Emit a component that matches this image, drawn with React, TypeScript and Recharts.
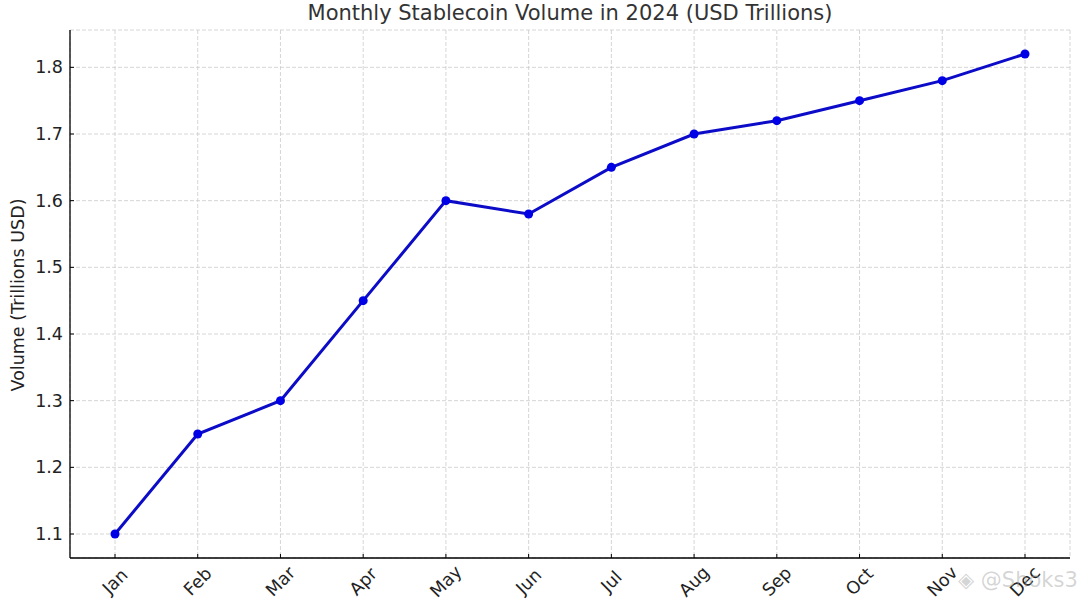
import React from "react";
import { LineChart, Line, XAxis, YAxis, CartesianGrid } from "recharts";

const months = ["Jan", "Feb", "Mar", "Apr", "May", "Jun", "Jul", "Aug", "Sep", "Oct", "Nov", "Dec"];
const volume = [1.1, 1.25, 1.3, 1.45, 1.6, 1.58, 1.65, 1.7, 1.72, 1.75, 1.78, 1.82];
const yTicks = [1.1, 1.2, 1.3, 1.4, 1.5, 1.6, 1.7, 1.8];

const data = months.map((m, i) => ({ month: m, volume: volume[i] }));

const W = 1080;
const H = 607;
const PLOT_LEFT = 70;
const PLOT_BOTTOM = 558;
const FONT = "'DejaVu Sans', sans-serif";
const TICK_FS = 17.5;

function YTick(props: any) {
  const { y, payload } = props;
  return (
    <g>
      <line x1={PLOT_LEFT} x2={PLOT_LEFT + 4} y1={y} y2={y} stroke="#000" strokeWidth={1} />
      <text
        x={PLOT_LEFT - 7}
        y={y}
        textAnchor="end"
        dominantBaseline="central"
        fontSize={TICK_FS}
        fontFamily={FONT}
        fill="#222"
      >
        {payload.value.toFixed(1)}
      </text>
    </g>
  );
}

function XTick(props: any) {
  const { x, payload } = props;
  const label = String(payload.value);
  const w = label.length * TICK_FS * 0.62;
  const h = TICK_FS * 0.8;
  const half = ((w + h) * 0.7071) / 2;
  const cy = PLOT_BOTTOM + 7 + half;
  return (
    <g>
      <line x1={x} x2={x} y1={PLOT_BOTTOM} y2={PLOT_BOTTOM - 4} stroke="#000" strokeWidth={1} />
      <text
        x={x}
        y={cy}
        textAnchor="middle"
        dominantBaseline="central"
        fontSize={TICK_FS}
        fontFamily={FONT}
        fill="#222"
        transform={`rotate(-45 ${x} ${cy})`}
      >
        {label}
      </text>
    </g>
  );
}

export default function App() {
  return (
    <div style={{ position: "absolute", left: 0, top: 0, width: W, height: H, background: "#fff", fontFamily: FONT }}>
      <div
        style={{
          position: "absolute",
          left: PLOT_LEFT,
          width: 1000,
          top: 1,
          textAlign: "center",
          fontSize: 21,
          color: "#333",
        }}
      >
        Monthly Stablecoin Volume in 2024 (USD Trillions)
      </div>
      <div
        style={{
          position: "absolute",
          left: 18,
          top: 295,
          transform: "translate(-50%, -50%) rotate(-90deg)",
          whiteSpace: "nowrap",
          fontSize: 17.5,
          color: "#222",
        }}
      >
        Volume (Trillions USD)
      </div>
      <LineChart width={W} height={H} data={data} margin={{ top: 30, right: 10, bottom: 0, left: 0 }}>
        <CartesianGrid stroke="#cccccc" strokeDasharray="4 2" strokeWidth={0.8} />
        <XAxis
          dataKey="month"
          height={49}
          padding={{ left: 45, right: 45 }}
          interval={0}
          tickLine={false}
          axisLine={{ stroke: "#000", strokeWidth: 1.3 }}
          tick={<XTick />}
        />
        <YAxis
          width={70}
          type="number"
          domain={[1.064, 1.856]}
          ticks={yTicks}
          allowDataOverflow
          tickLine={false}
          axisLine={{ stroke: "#000", strokeWidth: 1.3 }}
          tick={<YTick />}
        />
        <Line
          dataKey="volume"
          type="linear"
          stroke="#0c0cc8"
          strokeWidth={3}
          dot={{ r: 4.5, fill: "#0000e6", stroke: "none" }}
          activeDot={false}
          isAnimationActive={false}
        />
      </LineChart>
      <div
        style={{
          position: "absolute",
          left: 958,
          top: 568,
          fontSize: 21,
          color: "rgba(160,160,160,0.45)",
          whiteSpace: "nowrap",
        }}
      >
        ◈ @Shoks3
      </div>
    </div>
  );
}
